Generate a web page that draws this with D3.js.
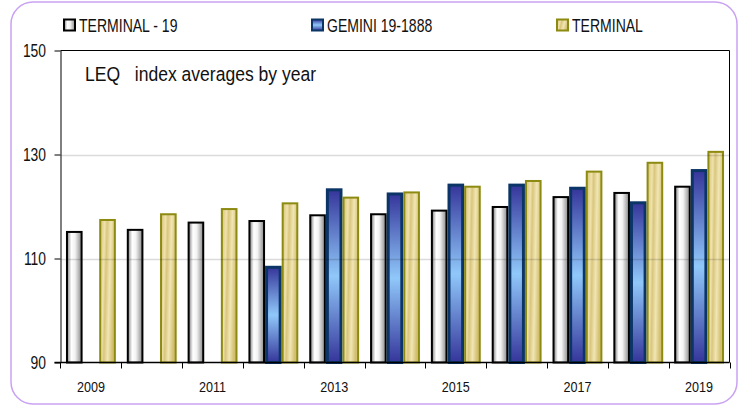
<!DOCTYPE html>
<html>
<head>
<meta charset="utf-8">
<script src="https://cdn.jsdelivr.net/npm/d3@7"></script>
<style>
  body { margin: 0; background: #fff; }
  text { font-family: "Liberation Sans", Arial, sans-serif; fill: #111; white-space: pre; }
</style>
</head>
<body>
<div id="chart"></div>
<script>
// values
var years = ["2009", "2010", "2011", "2012", "2013", "2014", "2015", "2016", "2017", "2018", "2019"];
var yearLabels = ["2009", "2011", "2013", "2015", "2017", "2019"];
var seriesNames = ["TERMINAL - 19", "GEMINI 19-1888", "TERMINAL"];
var terminal19 = [115.3, 115.7, 117.1, 117.4, 118.5, 118.7, 119.4, 120.1, 122.0, 122.8, 124.0];
var gemini = [null, null, null, 108.6, 123.5, 122.7, 124.4, 124.4, 123.8, 121.0, 127.2];
var terminal = [117.6, 118.7, 119.7, 120.8, 121.9, 122.9, 124.0, 125.1, 126.9, 128.6, 130.7];
var yTicks = [90, 110, 130, 150];

var width = 743, height = 407;
var plotL = 60.5, plotR = 729.5, plotT = 50.5, plotB = 362.5;

var svg = d3.select("#chart").append("svg").attr("width", width).attr("height", height);
var defs = svg.append("defs");

// gradients for the three series
var g1 = defs.append("linearGradient").attr("id", "gWhite").attr("x1", 0).attr("x2", 1).attr("y1", 0).attr("y2", 0);
[[0, "#7e7e7e"], [0.3, "#ffffff"], [0.55, "#f3f3f3"], [1, "#8a8a8a"]].forEach(function(s){
  g1.append("stop").attr("offset", s[0]).attr("stop-color", s[1]);
});
var g2 = defs.append("linearGradient").attr("id", "gBlue").attr("x1", 0).attr("x2", 0).attr("y1", 0).attr("y2", 1);
[[0, "#35359a"], [0.5, "#90c8fa"], [1, "#35359a"]].forEach(function(s){
  g2.append("stop").attr("offset", s[0]).attr("stop-color", s[1]);
});
var g3 = defs.append("linearGradient").attr("id", "gGold").attr("x1", 0).attr("x2", 1).attr("y1", 0).attr("y2", 0.25);
[[0, "#d6c47a"], [0.3, "#efe2ab"], [0.45, "#d9c67e"], [0.7, "#f1e6b4"], [1, "#d2bf70"]].forEach(function(s){
  g3.append("stop").attr("offset", s[0]).attr("stop-color", s[1]);
});
var fills = ["url(#gWhite)", "url(#gBlue)", "url(#gGold)"];
var strokes = ["#000000", "#0b3567", "#8c8a10"];
var strokeW = [2, 3, 2];

// outer rounded border
svg.append("rect").attr("x", 11).attr("y", 2).attr("width", 726).attr("height", 402)
  .attr("rx", 22).attr("fill", "none").attr("stroke", "#c9a2f2").attr("stroke-width", 1.5);

// helper for condensed text
function label(x, y, str, size, sx, anchor) {
  return svg.append("g").attr("transform", "translate(" + x + "," + y + ") scale(" + sx + ",1)")
    .append("text").attr("font-size", size).attr("text-anchor", anchor || "start")
    .attr("dominant-baseline", "central").text(str);
}

var x0 = d3.scaleBand().domain(years).range([plotL, plotR]).paddingInner(0.18).paddingOuter(0.09);
var x1 = d3.scaleBand().domain([0, 1, 2]).range([0, x0.bandwidth()]);
var y = d3.scaleLinear().domain([90, 150]).range([plotB, plotT]);

var table = years.map(function(yr, i){
  return { year: yr, vals: [terminal19[i], gemini[i], terminal[i]] };
});

// bars
var groups = svg.selectAll(".grp").data(table).enter().append("g")
  .attr("class", "grp")
  .attr("transform", function(d){ return "translate(" + x0(d.year) + ",0)"; });

groups.selectAll("rect").data(function(d){
    return d.vals.map(function(v, k){ return { k: k, v: v }; }).filter(function(e){ return e.v != null; });
  }).enter().append("rect")
  .attr("x", function(d){ return x1(d.k) + strokeW[d.k] / 2; })
  .attr("width", function(d){ return x1.bandwidth() - strokeW[d.k]; })
  .attr("y", function(d){ return y(d.v) + strokeW[d.k] / 2; })
  .attr("height", function(d){ return plotB - y(d.v) - strokeW[d.k] / 2; })
  .attr("fill", function(d){ return fills[d.k]; })
  .attr("stroke", function(d){ return strokes[d.k]; })
  .attr("stroke-width", function(d){ return strokeW[d.k]; });

// gridlines (faint, visible through bars)
svg.selectAll(".grid").data([110, 130]).enter().append("line")
  .attr("x1", plotL).attr("x2", plotR)
  .attr("y1", function(d){ return Math.round(y(d)) + 0.5; })
  .attr("y2", function(d){ return Math.round(y(d)) + 0.5; })
  .attr("stroke", "#000").attr("stroke-opacity", 0.14).attr("stroke-width", 1.5);

// frame
svg.append("path").attr("d", "M" + plotL + "," + plotT + "H" + plotR + "V" + plotB)
  .attr("fill", "none").attr("stroke", "#000").attr("stroke-width", 1);

// y axis
var yAxis = d3.axisLeft(y).tickValues(yTicks).tickSize(6).tickSizeOuter(0).tickFormat("");
svg.append("g").attr("transform", "translate(" + plotL + ",0)").call(yAxis)
  .call(function(g){ g.selectAll("line,path").attr("stroke", "#000"); });
yTicks.forEach(function(t){
  label(46, y(t), String(t), 18, 0.77, "end");
});

// x axis, ticks on category boundaries
var bounds = years.map(function(yr){ return x0(yr) - x0.step() * x0.paddingInner() / 2; }).concat([plotR]);
svg.append("line").attr("x1", plotL - 6).attr("x2", plotR).attr("y1", plotB).attr("y2", plotB)
  .attr("stroke", "#000").attr("stroke-width", 1.5);
svg.selectAll(".xt").data(bounds).enter().append("line")
  .attr("x1", function(d){ return Math.round(d) + 0.5; }).attr("x2", function(d){ return Math.round(d) + 0.5; })
  .attr("y1", plotB).attr("y2", plotB + 6).attr("stroke", "#000");
yearLabels.forEach(function(yr){
  label(x0(yr) + x0.bandwidth() / 2, 387, yr, 15, 0.84, "middle");
});

// title
label(85, 74, "LEQ   index averages by year", 19.5, 0.9, "start");

// legend
var legendX = [63, 311, 556];
seriesNames.forEach(function(name, k){
  svg.append("rect").attr("x", legendX[k] + 1).attr("y", 19.5).attr("width", 11).attr("height", 11)
    .attr("fill", fills[k]).attr("stroke", strokes[k]).attr("stroke-width", 2);
  label(legendX[k] + 16, 25.5, name, 18, 0.78, "start");
});
</script>
</body>
</html>
